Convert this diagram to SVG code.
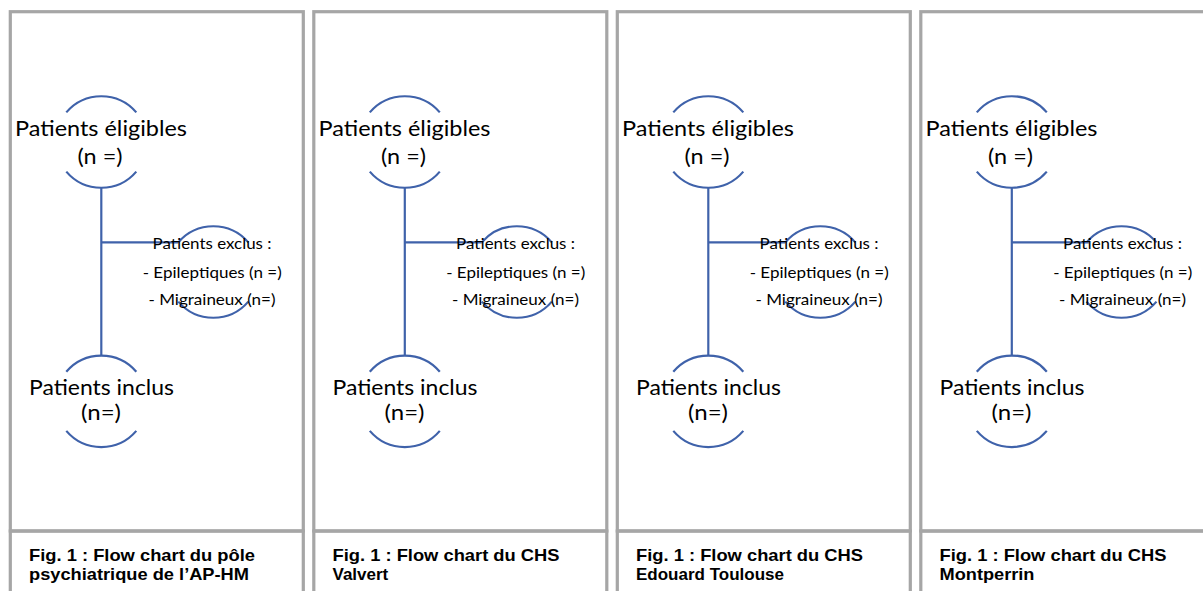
<svg xmlns="http://www.w3.org/2000/svg" xmlns:xlink="http://www.w3.org/1999/xlink" width="1203" height="591" viewBox="0 0 1203 591">
<style>
.frame{fill:none;stroke:#a6a6a6;stroke-width:3.2}
.arc{fill:none;stroke:#3f62aa;stroke-width:2.2}
.conn{fill:none;stroke:#3f62aa;stroke-width:2.2}
.big{font-family:Lato,"Open Sans","Liberation Sans",sans-serif;font-size:21px;fill:#000;text-anchor:middle}
.small{font-family:Lato,"Open Sans","Liberation Sans",sans-serif;font-size:15px;fill:#000;text-anchor:middle}
.cap{font-family:"Liberation Sans",Arial,sans-serif;font-size:17px;font-weight:bold;fill:#000}
</style>
<defs>
<g id="arcs">
<path class="arc" d="M -35 -29.6 A 46 46 0 0 1 35 -29.6"/>
<path class="arc" d="M -35 29.6 A 46 46 0 0 0 35 29.6"/>
</g>
</defs>
<rect width="1203" height="591" fill="#fff"/>

<g id="frames">
<rect class="frame" x="10.3" y="11.7" width="293" height="519.3"/>
<rect class="frame" x="10.3" y="531" width="293" height="80"/>
<rect class="frame" x="313.8" y="11.7" width="293" height="519.3"/>
<rect class="frame" x="313.8" y="531" width="293" height="80"/>
<rect class="frame" x="617.3" y="11.7" width="293" height="519.3"/>
<rect class="frame" x="617.3" y="531" width="293" height="80"/>
<rect class="frame" x="920.8" y="11.7" width="293" height="519.3"/>
<rect class="frame" x="920.8" y="531" width="293" height="80"/>
</g>

<g id="connectors">
<line class="conn" x1="101.3" y1="188" x2="101.3" y2="355"/>
<line class="conn" x1="101.3" y1="242.4" x2="178.3" y2="242.4"/>
<line class="conn" x1="404.8" y1="188" x2="404.8" y2="355"/>
<line class="conn" x1="404.8" y1="242.4" x2="481.8" y2="242.4"/>
<line class="conn" x1="708.3" y1="188" x2="708.3" y2="355"/>
<line class="conn" x1="708.3" y1="242.4" x2="785.3" y2="242.4"/>
<line class="conn" x1="1011.8" y1="188" x2="1011.8" y2="355"/>
<line class="conn" x1="1011.8" y1="242.4" x2="1088.8" y2="242.4"/>
</g>

<!-- Panel 1 -->
<g id="p1-eligibles">
<use xlink:href="#arcs" transform="translate(101.3,142)"/>
<text class="big" x="101" y="136" textLength="172" lengthAdjust="spacingAndGlyphs">Patients éligibles</text>
<text class="big" x="100" y="164" textLength="45" lengthAdjust="spacingAndGlyphs">(n =)</text>
</g>
<g id="p1-exclus">
<use xlink:href="#arcs" transform="translate(213.3,272)"/>
<text class="small" x="212" y="249.3" textLength="119" lengthAdjust="spacingAndGlyphs">Patients exclus :</text>
<text class="small" x="212.2" y="277.7" textLength="139" lengthAdjust="spacingAndGlyphs">- Epileptiques (n =)</text>
<text class="small" x="212" y="305" textLength="127" lengthAdjust="spacingAndGlyphs">- Migraineux (n=)</text>
</g>
<g id="p1-inclus">
<use xlink:href="#arcs" transform="translate(101.3,401.3)"/>
<text class="big" x="101.5" y="395" textLength="145" lengthAdjust="spacingAndGlyphs">Patients inclus</text>
<text class="big" x="101" y="420" textLength="40" lengthAdjust="spacingAndGlyphs">(n=)</text>
</g>
<g id="p1-caption">
<text class="cap" x="29" y="561" textLength="226" lengthAdjust="spacingAndGlyphs">Fig. 1 : Flow chart du pôle</text>
<text class="cap" x="29" y="580" textLength="220" lengthAdjust="spacingAndGlyphs">psychiatrique de l’AP-HM</text>
</g>

<!-- Panel 2 -->
<g id="p2-eligibles">
<use xlink:href="#arcs" transform="translate(404.8,142)"/>
<text class="big" x="404.5" y="136" textLength="172" lengthAdjust="spacingAndGlyphs">Patients éligibles</text>
<text class="big" x="403.5" y="164" textLength="45" lengthAdjust="spacingAndGlyphs">(n =)</text>
</g>
<g id="p2-exclus">
<use xlink:href="#arcs" transform="translate(516.8,272)"/>
<text class="small" x="515.5" y="249.3" textLength="119" lengthAdjust="spacingAndGlyphs">Patients exclus :</text>
<text class="small" x="515.7" y="277.7" textLength="139" lengthAdjust="spacingAndGlyphs">- Epileptiques (n =)</text>
<text class="small" x="515.5" y="305" textLength="127" lengthAdjust="spacingAndGlyphs">- Migraineux (n=)</text>
</g>
<g id="p2-inclus">
<use xlink:href="#arcs" transform="translate(404.8,401.3)"/>
<text class="big" x="405" y="395" textLength="145" lengthAdjust="spacingAndGlyphs">Patients inclus</text>
<text class="big" x="404.5" y="420" textLength="40" lengthAdjust="spacingAndGlyphs">(n=)</text>
</g>
<g id="p2-caption">
<text class="cap" x="332.5" y="561" textLength="227" lengthAdjust="spacingAndGlyphs">Fig. 1 : Flow chart du CHS</text>
<text class="cap" x="332.5" y="580">Valvert</text>
</g>

<!-- Panel 3 -->
<g id="p3-eligibles">
<use xlink:href="#arcs" transform="translate(708.3,142)"/>
<text class="big" x="708" y="136" textLength="172" lengthAdjust="spacingAndGlyphs">Patients éligibles</text>
<text class="big" x="707" y="164" textLength="45" lengthAdjust="spacingAndGlyphs">(n =)</text>
</g>
<g id="p3-exclus">
<use xlink:href="#arcs" transform="translate(820.3,272)"/>
<text class="small" x="819" y="249.3" textLength="119" lengthAdjust="spacingAndGlyphs">Patients exclus :</text>
<text class="small" x="819.2" y="277.7" textLength="139" lengthAdjust="spacingAndGlyphs">- Epileptiques (n =)</text>
<text class="small" x="819" y="305" textLength="127" lengthAdjust="spacingAndGlyphs">- Migraineux (n=)</text>
</g>
<g id="p3-inclus">
<use xlink:href="#arcs" transform="translate(708.3,401.3)"/>
<text class="big" x="708.5" y="395" textLength="145" lengthAdjust="spacingAndGlyphs">Patients inclus</text>
<text class="big" x="708" y="420" textLength="40" lengthAdjust="spacingAndGlyphs">(n=)</text>
</g>
<g id="p3-caption">
<text class="cap" x="636" y="561" textLength="227" lengthAdjust="spacingAndGlyphs">Fig. 1 : Flow chart du CHS</text>
<text class="cap" x="636" y="580">Edouard Toulouse</text>
</g>

<!-- Panel 4 -->
<g id="p4-eligibles">
<use xlink:href="#arcs" transform="translate(1011.8,142)"/>
<text class="big" x="1011.5" y="136" textLength="172" lengthAdjust="spacingAndGlyphs">Patients éligibles</text>
<text class="big" x="1010.5" y="164" textLength="45" lengthAdjust="spacingAndGlyphs">(n =)</text>
</g>
<g id="p4-exclus">
<use xlink:href="#arcs" transform="translate(1121.5,272)"/>
<text class="small" x="1122.5" y="249.3" textLength="119" lengthAdjust="spacingAndGlyphs">Patients exclus :</text>
<text class="small" x="1122.7" y="277.7" textLength="139" lengthAdjust="spacingAndGlyphs">- Epileptiques (n =)</text>
<text class="small" x="1122.5" y="305" textLength="127" lengthAdjust="spacingAndGlyphs">- Migraineux (n=)</text>
</g>
<g id="p4-inclus">
<use xlink:href="#arcs" transform="translate(1011.8,401.3)"/>
<text class="big" x="1012" y="395" textLength="145" lengthAdjust="spacingAndGlyphs">Patients inclus</text>
<text class="big" x="1011.5" y="420" textLength="40" lengthAdjust="spacingAndGlyphs">(n=)</text>
</g>
<g id="p4-caption">
<text class="cap" x="939.5" y="561" textLength="227" lengthAdjust="spacingAndGlyphs">Fig. 1 : Flow chart du CHS</text>
<text class="cap" x="939.5" y="580" textLength="95" lengthAdjust="spacingAndGlyphs">Montperrin</text>
</g>
</svg>
